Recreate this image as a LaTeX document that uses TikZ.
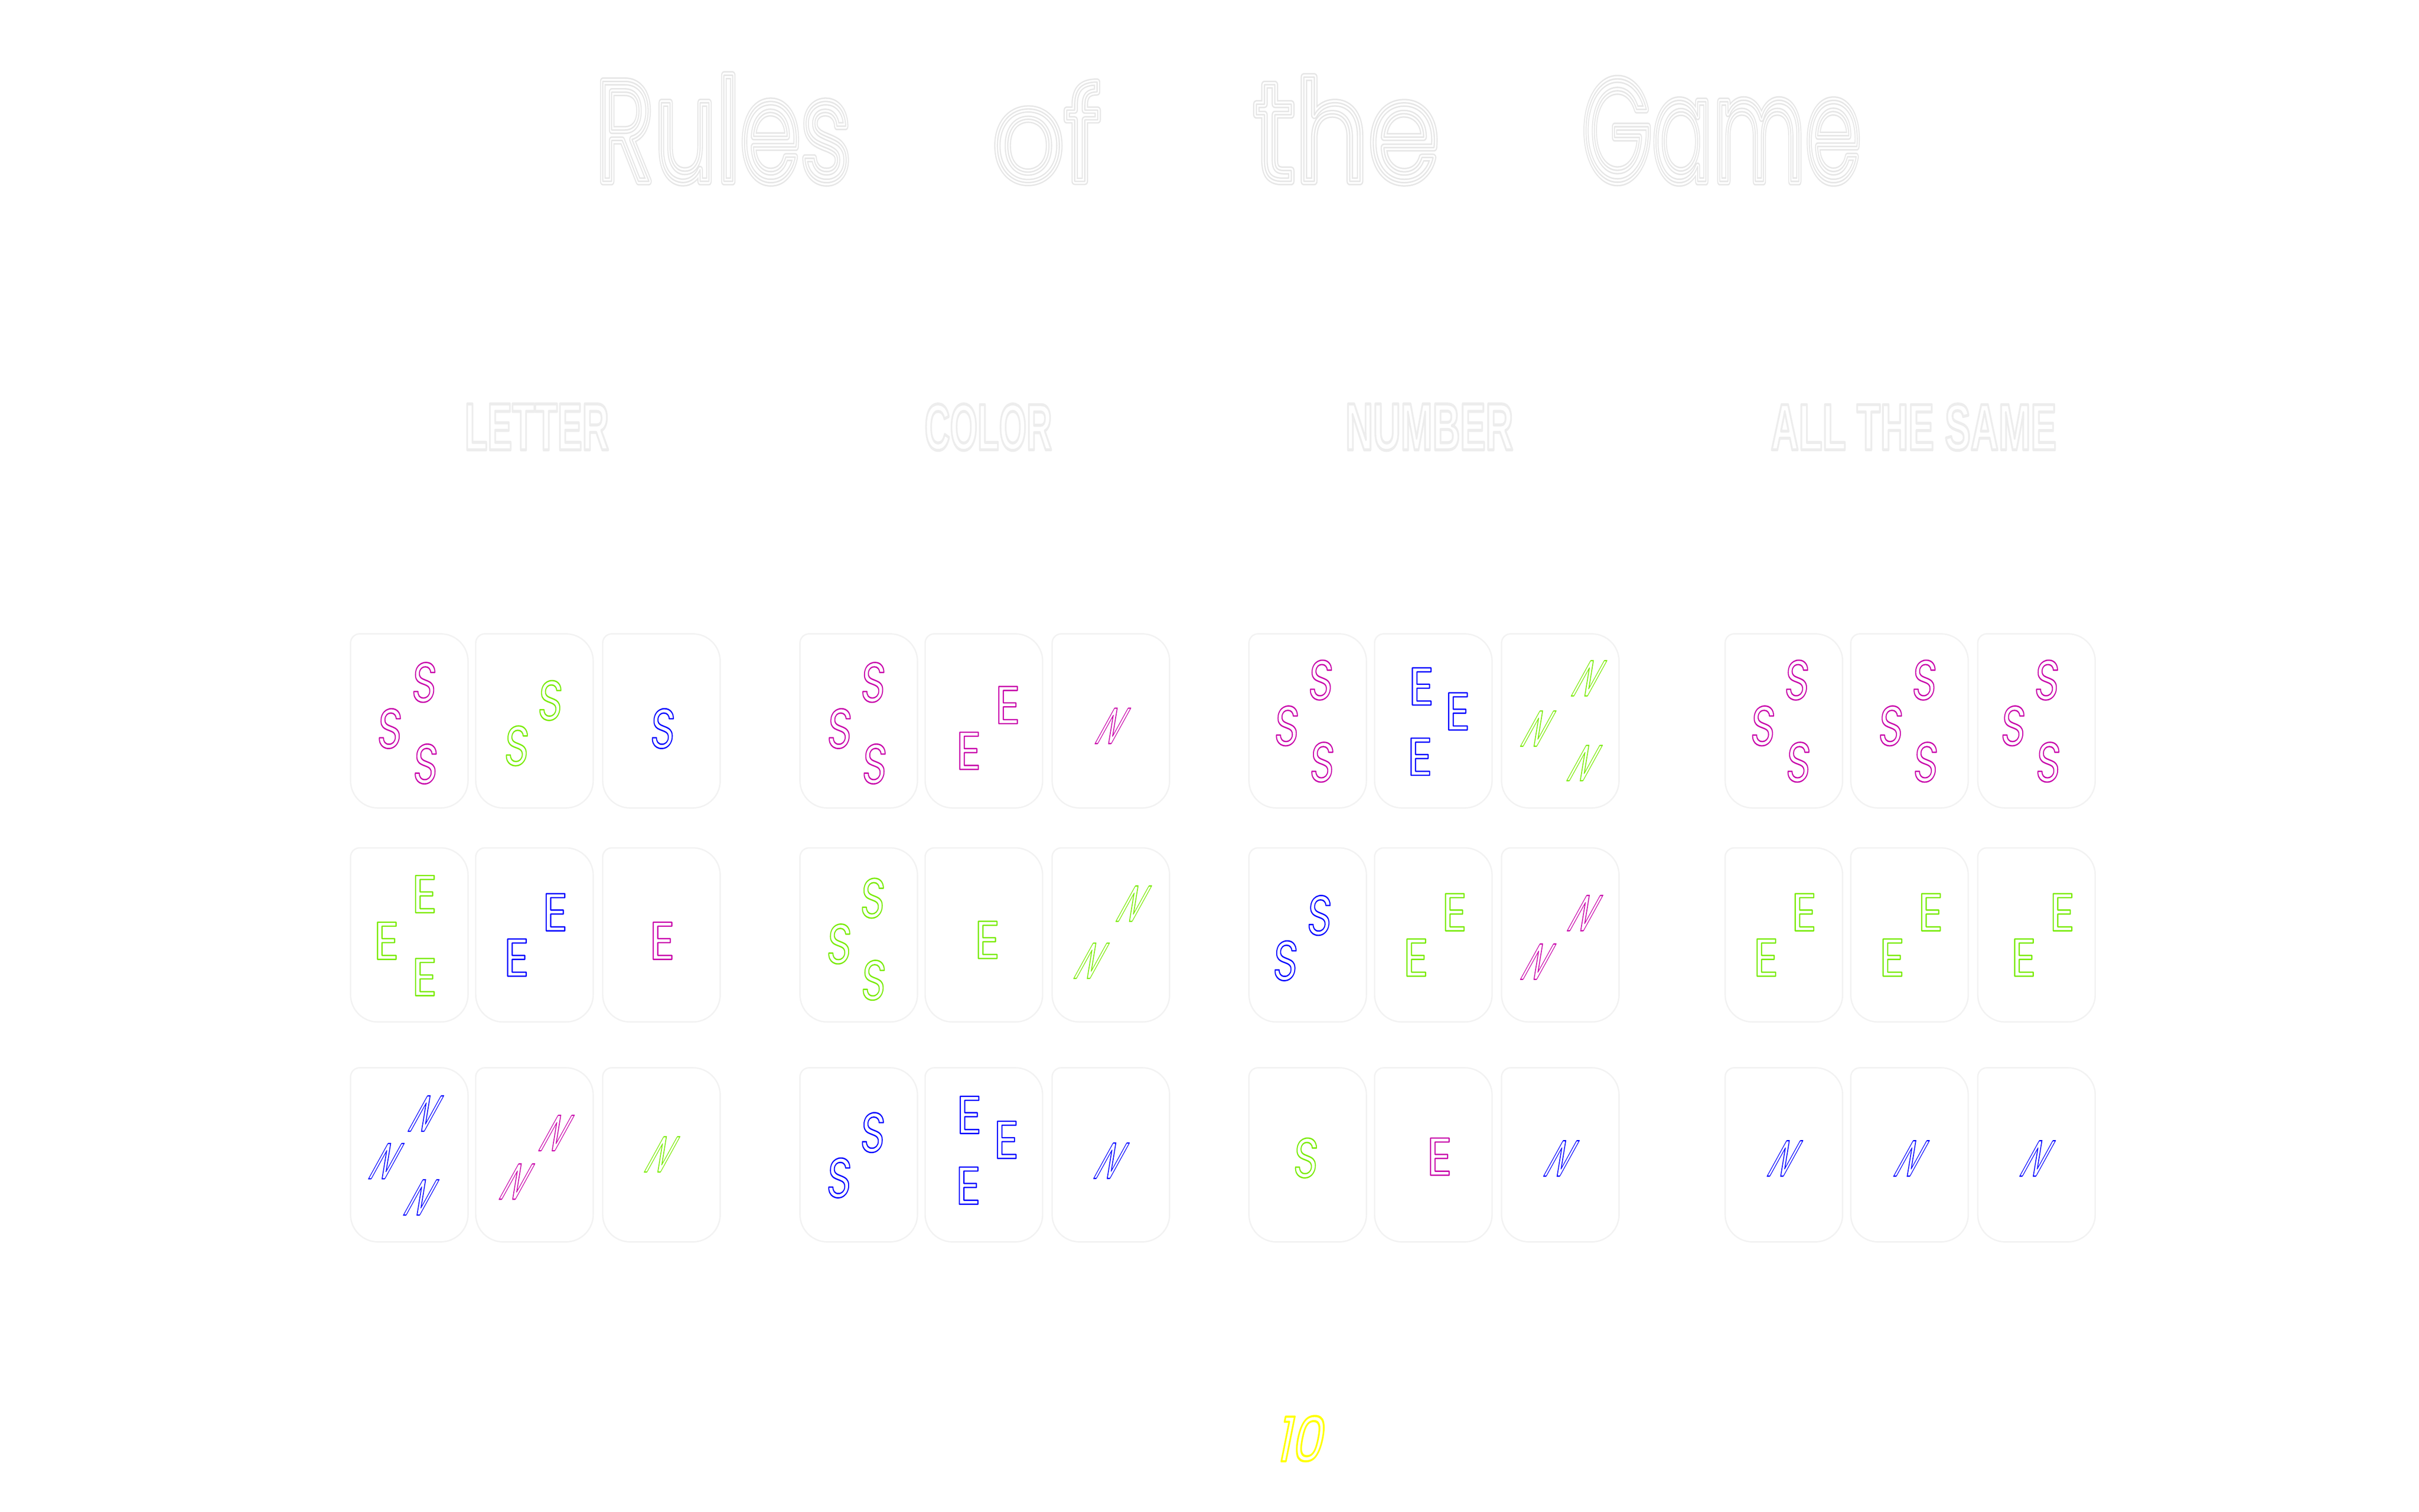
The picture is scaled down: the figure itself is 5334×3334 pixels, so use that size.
\documentclass[tikz,border=0pt]{standalone}
\usepackage{fontspec}
\setmainfont{Poppins}
\newfontfamily\hfont{Liberation Sans}
\usepackage{graphicx}
\newlength\px \setlength\px{0.01cm}
\definecolor{mag}{RGB}{200,0,170}
\definecolor{grn}{RGB}{120,235,0}
\definecolor{blu}{RGB}{0,0,255}
\definecolor{ylw}{RGB}{255,255,0}
\definecolor{ttl}{RGB}{230,230,230}
\definecolor{hdg}{RGB}{237,237,237}
\definecolor{crd}{RGB}{242,242,242}
\newcommand\hollow[2]{\special{pdf:literal direct 1 j #1 w 1 Tr}#2\special{pdf:literal direct 0 Tr}}
\newcommand\glyphbox[3]{\resizebox{#1\px}{#2\px}{\fontsize{36}{40}\selectfont\hollow{0.85}{#3}}}
\newcommand\Sg{\glyphbox{54}{87}{S}}
\newcommand\Eg{\glyphbox{56}{82}{E}}
\newcommand\Ng{\glyphbox{46}{78}{N}}
\newcommand\ttlword[4]{\resizebox{#1\px}{#2\px}{\fontsize{97}{100}\selectfont\hollow{#3}{#4}}}
\newcommand\hdword[3]{\resizebox{#1\px}{101\px}{\hfont\bfseries\fontsize{42}{44}\selectfont\hollow{1.9}{#3}}}
\tikzset{
  glyph/.style={inner sep=0pt, outer sep=0pt},
  sglyph/.style={glyph, xslant=0.08},
  eglyph/.style={glyph},
  nglyph/.style={glyph, xslant=0.55},
  cardline/.style={draw=crd, line width=0.85pt},
  titleword/.style={inner sep=0pt, anchor=base west},
  heading/.style={inner sep=0pt, anchor=base west, text=hdg},
}
\newcommand\putS[4]{\node[sglyph, text=#4] (#1) at (#2,#3) {\Sg};}
\newcommand\putE[4]{\node[eglyph, text=#4] (#1) at (#2,#3) {\Eg};}
\newcommand\putN[4]{\node[nglyph, text=#4] (#1) at (#2,#3) {\Ng};}
\newcommand\cardat[2]{\begin{scope}[shift={(#1,#2)}]
  \draw[cardline] (0,20) .. controls (0,9) and (9,0) .. (20,0) -- (199,0)
    .. controls (232,0) and (259,27) .. (259,60) -- (259,324)
    .. controls (259,357) and (232,384) .. (199,384) -- (60,384)
    .. controls (27,384) and (0,357) .. (0,324) -- cycle;
\end{scope}}
\begin{document}
\begin{tikzpicture}[x=0.01cm, y=-0.01cm]
\useasboundingbox (0,0) rectangle (5334,3334);
\fill[white] (0,0) rectangle (5334,3334);
% title
\foreach \w/\c/\nm in {5.5/ttl/a, 3.5/white/b, 1/ttl/c} {
  \node[titleword, text=\c] (tr\nm) at (1312,400) {\ttlword{564}{234}{\w}{Rules}};
  \node[titleword, text=\c] (to\nm) at (2188,400) {\ttlword{239}{219}{\w}{of}};
  \node[titleword, text=\c] (tt\nm) at (2763,400) {\ttlword{410}{230}{\w}{the}};
  \node[titleword, text=\c] (tg\nm) at (3488,400) {\ttlword{615}{226}{\w}{Game}};
}
% headings
\node[heading] (hl) at (1024,992) {\hdword{318}{}{LETTER}};
\node[heading] (hc) at (2038,992) {\hdword{281}{}{COLOR}};
\node[heading] (hn) at (2966,992) {\hdword{370}{}{NUMBER}};
\node[heading] (ha) at (3904,992) {\hdword{630}{}{ALL THE SAME}};
% cards
\foreach \cx in {773,1049,1329,1764,2040,2320,2754,3031,3311,3804,4081,4361}
  \foreach \cy in {1398,1870,2355} {\cardat{\cx}{\cy}}
% LETTER
\putS{la1}{936}{1505}{mag} \putS{la2}{860}{1607}{mag} \putS{la3}{939}{1685}{mag}
\putS{lb1}{1214}{1545}{grn} \putS{lb2}{1140}{1645}{grn}
\putS{lc1}{1462}{1607}{blu}
\putE{ld1}{936}{1972}{grn} \putE{ld2}{852}{2075}{grn} \putE{ld3}{936}{2155}{grn}
\putE{le1}{1224}{2012}{blu} \putE{le2}{1139}{2112}{blu}
\putE{lf1}{1460}{2075}{mag}
\putN{lg1}{939}{2456}{blu} \putN{lg2}{852}{2561}{blu} \putN{lg3}{929}{2641}{blu}
\putN{lh1}{1227}{2499}{mag} \putN{lh2}{1140}{2606}{mag}
\putN{li1}{1460}{2546}{grn}
% COLOR
\putS{ca1}{1926}{1505}{mag} \putS{ca2}{1852}{1607}{mag} \putS{ca3}{1929}{1685}{mag}
\putE{cb1}{2222}{1555}{mag} \putE{cb2}{2136}{1656}{mag}
\putN{cc1}{2454}{1601}{mag}
\putS{cd1}{1925}{1981}{grn} \putS{cd2}{1851}{2082}{grn} \putS{cd3}{1927}{2162}{grn}
\putE{ce1}{2177}{2073}{grn}
\putN{cf1}{2500}{1993}{grn} \putN{cf2}{2407}{2119}{grn}
\putS{cg1}{1925}{2498}{blu} \putS{cg2}{1851}{2598}{blu}
\putE{ch1}{2137}{2459}{blu} \putE{ch2}{2219}{2514}{blu} \putE{ch3}{2135}{2615}{blu}
\putN{ci1}{2451}{2560}{blu}
% NUMBER
\putS{na1}{2913}{1500}{mag} \putS{na2}{2838}{1601}{mag} \putS{na3}{2916}{1681}{mag}
\putE{nb1}{3134}{1514}{blu} \putE{nb2}{3214}{1569}{blu} \putE{nb3}{3131}{1669}{blu}
\putN{nc1}{3504}{1496}{grn} \putN{nc2}{3392}{1607}{grn} \putN{nc3}{3494}{1683}{grn}
\putS{nd1}{2910}{2019}{blu} \putS{nd2}{2835}{2119}{blu}
\putE{ne1}{3207}{2012}{grn} \putE{ne2}{3122}{2112}{grn}
\putN{nf1}{3495}{2014}{mag} \putN{nf2}{3392}{2121}{mag}
\putS{ng1}{2880}{2554}{grn}
\putE{nh1}{3174}{2551}{mag}
\putN{ni1}{3443}{2555}{blu}
% ALL THE SAME
\putS{aa1}{3963}{1500}{mag} \putS{aa2}{3888}{1601}{mag} \putS{aa3}{3966}{1681}{mag}
\putS{ab1}{4244}{1500}{mag} \putS{ab2}{4170}{1601}{mag} \putS{ab3}{4247}{1681}{mag}
\putS{ac1}{4514}{1500}{mag} \putS{ac2}{4440}{1601}{mag} \putS{ac3}{4517}{1681}{mag}
\putE{ad1}{3978}{2012}{grn} \putE{ad2}{3894}{2112}{grn}
\putE{ae1}{4257}{2012}{grn} \putE{ae2}{4172}{2112}{grn}
\putE{af1}{4547}{2012}{grn} \putE{af2}{4462}{2112}{grn}
\putN{ag1}{3936}{2555}{blu}
\putN{ah1}{4215}{2555}{blu}
\putN{ai1}{4493}{2555}{blu}
% page number
\node[glyph, xslant=0.2, text=ylw] (pg) at (2872,3173)
  {\resizebox{102\px}{100\px}{\fontsize{41}{44}\selectfont\hollow{1.4}{10}}};
\end{tikzpicture}
\end{document}
